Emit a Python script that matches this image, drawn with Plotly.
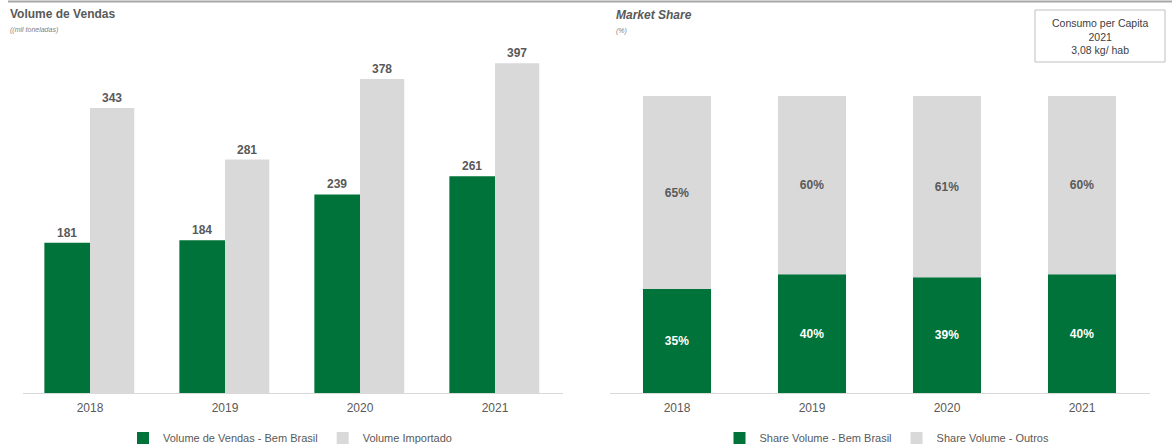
import plotly.graph_objects as go

years = ["2018", "2019", "2020", "2021"]
vol_bem_brasil = [181, 184, 239, 261]
vol_importado = [343, 281, 378, 397]
share_bem_brasil = [35, 40, 39, 40]
share_outros = [65, 60, 61, 60]

GREEN = "#00733A"
GRAY = "#D9D9D9"
TXT = "#595959"
FONT = "Liberation Sans, Arial, sans-serif"

W, H = 1172, 447
def px(x): return x / W
def py(y): return 1 - y / H

xs = list(range(len(years)))

fig = go.Figure()

# Left chart: grouped volumes
fig.add_trace(go.Bar(
    x=xs, y=vol_bem_brasil, width=0.338, offset=-0.338,
    marker=dict(color=GREEN, line=dict(width=0)),
    name="Volume de Vendas - Bem Brasil",
    text=[str(v) for v in vol_bem_brasil], textposition="outside",
    textfont=dict(family=FONT, size=12, color=TXT, weight="bold"),
    cliponaxis=False, xaxis="x", yaxis="y", legend="legend",
))
fig.add_trace(go.Bar(
    x=xs, y=vol_importado, width=0.328, offset=0.0,
    marker=dict(color=GRAY, line=dict(width=0)),
    name="Volume Importado",
    text=[str(v) for v in vol_importado], textposition="outside",
    textfont=dict(family=FONT, size=12, color=TXT, weight="bold"),
    cliponaxis=False, xaxis="x", yaxis="y", legend="legend",
))

# Right chart: stacked shares
fig.add_trace(go.Bar(
    x=xs, y=share_bem_brasil, width=0.504, offset=-0.252,
    marker=dict(color=GREEN, line=dict(width=0)),
    name="Share Volume - Bem Brasil",
    text=[f"{v}%" for v in share_bem_brasil], textposition="inside",
    insidetextanchor="middle", textangle=0,
    textfont=dict(family=FONT, size=12, color="white", weight="bold"),
    xaxis="x2", yaxis="y2", legend="legend2",
))
fig.add_trace(go.Bar(
    x=xs, y=share_outros, base=share_bem_brasil, width=0.504, offset=-0.252,
    marker=dict(color=GRAY, line=dict(width=0)),
    name="Share Volume - Outros",
    text=[f"{v}%" for v in share_outros], textposition="inside",
    insidetextanchor="middle", textangle=0,
    textfont=dict(family=FONT, size=12, color=TXT, weight="bold"),
    xaxis="x2", yaxis="y2", legend="legend2",
))

axis_common = dict(
    tickmode="array", tickvals=xs, ticktext=years, range=[-0.5, len(years) - 0.5],
    showline=True, linecolor=GRAY, linewidth=1, showgrid=False, zeroline=False,
    ticks="", ticklabelstandoff=4, tickfont=dict(family=FONT, size=12, color=TXT),
)
yaxis_common = dict(showgrid=False, zeroline=False, showticklabels=False, showline=False)

fig.update_layout(
    width=W, height=H,
    margin=dict(l=0, r=0, t=0, b=0, autoexpand=False),
    paper_bgcolor="white", plot_bgcolor="white",
    barmode="overlay",
    font=dict(family=FONT, color=TXT),
    xaxis=dict(domain=[px(22.5), px(562.5)], anchor="y", **axis_common),
    yaxis=dict(domain=[py(393), py(40)], range=[0, 425], anchor="x", **yaxis_common),
    xaxis2=dict(domain=[px(609.5), px(1149.5)], anchor="y2", **axis_common),
    yaxis2=dict(domain=[py(393), py(40)], range=[0, 118.85], anchor="x2", **yaxis_common),
    legend=dict(orientation="h", x=px(290), xanchor="center", y=py(438), yanchor="middle",
                font=dict(family=FONT, size=11, color=TXT), bgcolor="rgba(0,0,0,0)",
                itemwidth=30, tracegroupgap=0),
    legend2=dict(orientation="h", x=px(887), xanchor="center", y=py(438), yanchor="middle",
                 font=dict(family=FONT, size=11, color=TXT), bgcolor="rgba(0,0,0,0)",
                 itemwidth=30, tracegroupgap=0),
    shapes=[
        dict(type="line", xref="paper", yref="paper", x0=px(8), x1=1, y0=py(1.5), y1=py(1.5),
             line=dict(color="#A6A6A6", width=2)),
        dict(type="rect", xref="paper", yref="paper", x0=px(1035), x1=px(1165),
             y0=py(62), y1=py(10), line=dict(color="#BFBFBF", width=1)),
    ],
    annotations=[
        dict(text="<b>Volume de Vendas</b>", xref="paper", yref="paper", x=px(8), y=py(14),
             xanchor="left", yanchor="middle", showarrow=False,
             font=dict(family=FONT, size=12, color=TXT)),
        dict(text="<i>((mil toneladas)</i>", xref="paper", yref="paper", x=px(8), y=py(30),
             xanchor="left", yanchor="middle", showarrow=False,
             font=dict(family=FONT, size=7, color="#7F7F7F")),
        dict(text="<b><i>Market Share</i></b>", xref="paper", yref="paper", x=px(614), y=py(15),
             xanchor="left", yanchor="middle", showarrow=False,
             font=dict(family=FONT, size=12, color=TXT)),
        dict(text="<i>(%)</i>", xref="paper", yref="paper", x=px(614), y=py(31),
             xanchor="left", yanchor="middle", showarrow=False,
             font=dict(family=FONT, size=7, color="#7F7F7F")),
        dict(text="Consumo per Capita<br>2021<br>3,08 kg/ hab", xref="paper", yref="paper",
             x=px(1100), y=py(36), xanchor="center", yanchor="middle", showarrow=False,
             align="center", font=dict(family=FONT, size=10.5, color="#404040")),
    ],
)

fig.write_html("out.html")
